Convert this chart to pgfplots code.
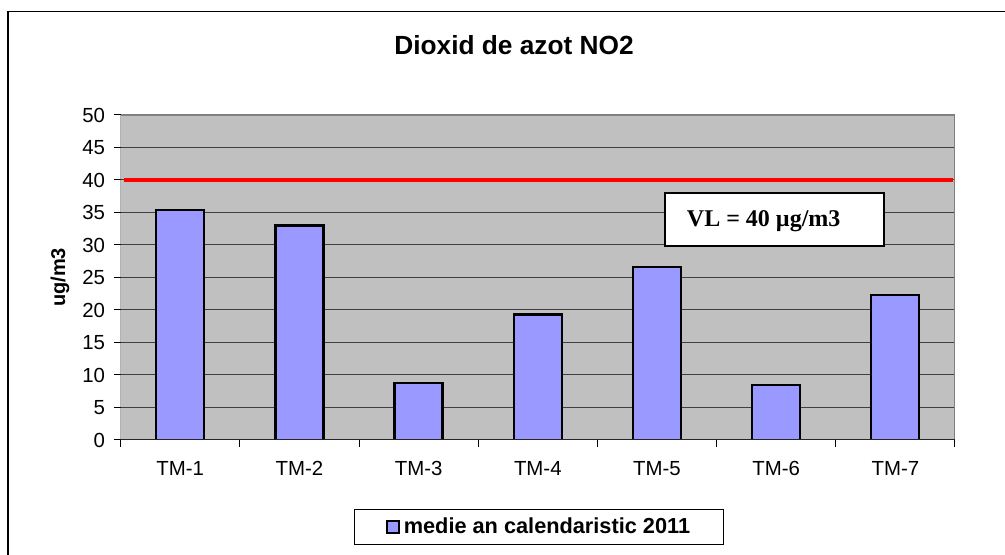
\documentclass[border=0pt]{standalone}
\usepackage{fontspec}
\setmainfont{Liberation Sans}
\newfontfamily\timesfont{Liberation Serif}
\usepackage{pgfplots}
\pgfplotsset{compat=1.18}
\definecolor{barfill}{HTML}{9999FF}
\definecolor{bg}{HTML}{C0C0C0}
\definecolor{gridc}{HTML}{404040}
\definecolor{framec}{HTML}{808080}
\begin{document}
\begin{tikzpicture}
\useasboundingbox (0,0) rectangle (753.75pt,416.25pt);
\draw[black, line width=1pt] (6pt,-5pt) -- (6pt,407.6pt) -- (760pt,407.6pt);
\node[anchor=base, font=\bfseries\fontsize{19.7}{22}\selectfont] at (385.5pt,375pt) {Dioxid de azot NO2};
\begin{axis}[
  at={(90.5pt,86.25pt)}, anchor=south west,
  width=625.7pt, height=243.75pt, scale only axis,
  xmin=-0.5, xmax=6.5, ymin=0, ymax=50,
  axis background/.style={fill=bg},
  axis line style={draw=none},
  ytick={0,5,...,50},
  ymajorgrids, grid style={gridc, line width=0.75pt},
  tick align=outside, major tick length=5.25pt,
  tick style={black, line width=0.75pt},
  xtick={-0.5,0.5,...,6.5}, xticklabels={,,,,,,,,},
  extra x ticks={0,1,2,3,4,5,6},
  extra x tick labels={TM-1,TM-2,TM-3,TM-4,TM-5,TM-6,TM-7},
  extra x tick style={major tick length=0pt},
  xtick pos=bottom, ytick pos=left,
  ticklabel style={font=\fontsize{15.3}{18}\selectfont},
  xticklabel style={yshift=-12.5pt},
  yticklabel style={xshift=-3pt},
  /pgf/number format/assume math mode=true,
  ylabel={ug/m3},
  every axis y label/.style={at={(axis description cs:-0.0728,0.5)}, rotate=90, anchor=center, font=\bfseries\fontsize{15}{18}\selectfont},
  legend style={at={(0.2796,-0.2123)}, anchor=north west, draw=black, line width=0.75pt, fill=white,
     font=\bfseries\fontsize{16.3}{19}\selectfont, inner xsep=24pt, inner ysep=5.5pt,
     nodes={inner sep=1pt}},
]
\addplot[ybar, bar width=36pt, fill=barfill, draw=black, line width=1.7pt,
  legend image code/.code={\draw[fill=barfill, draw=black, line width=1.4pt] (0pt,-4.5pt) rectangle (9pt,4.5pt); \path (10.5pt,0pt);}]
  coordinates {(0,35.4) (1,33.0) (2,8.8) (3,19.3) (4,26.6) (5,8.5) (6,22.3)};
\addlegendentry{medie an calendaristic 2011}
\addplot[red, line width=2.4pt, forget plot] coordinates {(-0.472,40) (6.483,40)};
\draw[fill=white, draw=black, line width=1.5pt] (axis cs:4.0666,29.85) rectangle (axis cs:5.904,38.0);
\node[anchor=base west, inner sep=0pt, font=\timesfont\bfseries\fontsize{18}{20}\selectfont] at (axis cs:4.249,32.77) {VL = 40 µg/m3};
\draw[framec, line width=1.5pt] (rel axis cs:0,1) -- (rel axis cs:1,1) -- (rel axis cs:1,0);
\draw[black!85, line width=1pt] (rel axis cs:0,1) -- (rel axis cs:0,0) -- (rel axis cs:1,0);
\end{axis}
\end{tikzpicture}
\end{document}
